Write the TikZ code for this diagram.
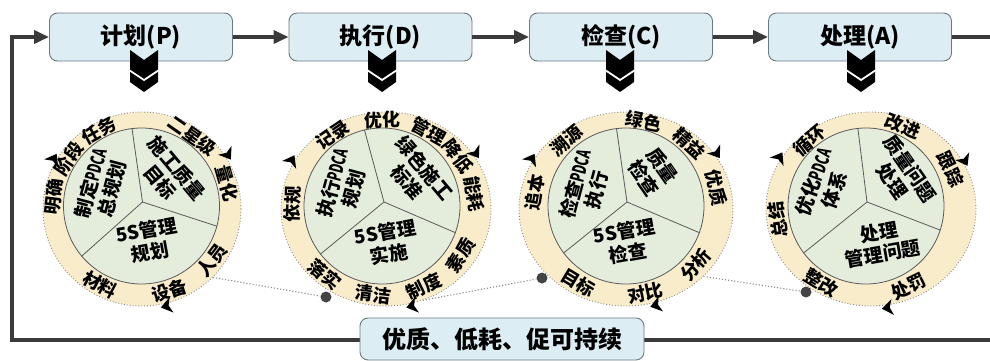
\documentclass[tikz,border=0pt]{standalone}
\usepackage{fontspec}
\setmainfont{Noto Sans CJK SC}
\usetikzlibrary{calc,arrows.meta,shapes.geometric}
\definecolor{boxfill}{HTML}{DCEEF4}
\definecolor{boxdraw}{HTML}{6A7A80}
\definecolor{flowc}{HTML}{3A3A3A}
\definecolor{ringfill}{HTML}{F8ECCA}
\definecolor{innerfill}{HTML}{E4EDDC}
\definecolor{divc}{HTML}{5A5A5A}
\definecolor{dotc}{HTML}{8A8A8A}
\definecolor{dotfill}{HTML}{444444}
\newcommand\pdca{\scalebox{0.62}[1]{PDCA}}
\newcommand\ringword[5]{%
  \pgfmathsetmacro\rwrot{sin(#3)>-0.25 ? #3-90 : #3+90}%
  \node[ringtxt,rotate=\rwrot] (#1) at ($(#2)+(#3:#4)$) {#5};}
\newcommand\rimarrow[3]{%
  \begin{scope}[shift={($(#1)+(#2:#3)$)},rotate=#2-90]
    \fill[black] (6,0) -- (-5,8) -- (-2,0) -- (-5,-8) -- cycle;
  \end{scope}}
\newcommand\chev[2]{%
  \fill[black] (#1-14,#2) -- (#1,#2-10) -- (#1+14,#2) -- (#1+14,#2-32) -- (#1,#2-42) -- (#1-14,#2-32) -- cycle;
  \draw[white,line width=1.8pt] (#1-15,#2-20) -- (#1,#2-30) -- (#1+15,#2-20);}
\begin{document}
\begin{tikzpicture}[x=1pt,y=1pt,
  titlebox/.style={draw=boxdraw, fill=boxfill, rounded corners=8pt, line width=0.9pt, minimum width=183pt, minimum height=48pt, inner sep=0pt, font=\bfseries\fontsize{23}{26}\selectfont},
  flowarrow/.style={draw=flowc, line width=3.5pt, -{Triangle[length=15pt,width=13pt]}},
  flowline/.style={draw=flowc, line width=3.5pt},
  ringdisc/.style={ellipse, draw=dotc, dotted, line width=0.9pt, fill=ringfill, inner sep=0pt, minimum height=194pt},
  coredisc/.style={circle, draw=divc, line width=0.8pt, fill=innerfill, minimum size=156pt, inner sep=0pt},
  divline/.style={draw=divc, line width=0.8pt},
  innertxt/.style={align=center, font=\bfseries\fontsize{19}{22}\selectfont, inner sep=0pt},
  ringtxt/.style={font=\bfseries\fontsize{18}{19}\selectfont, inner sep=0pt},
  dotlink/.style={draw=dotc, dotted, line width=1.1pt},
  dotmark/.style={circle, fill=dotfill, minimum size=11pt, inner sep=0pt},
]
\useasboundingbox (0,0) rectangle (990,360);

% ---------- circle 1 ----------
\node[ringdisc, minimum width=198pt] (o1) at (142,151) {};
\node[coredisc] (i1) at (141.5,154) {};
\coordinate (m1) at ($(o1.center)!0.5!(i1.center)$);
\coordinate (y1) at ($(i1.center)+(1,4)$);
\draw[divline] (y1) -- (i1.97) (y1) -- (i1.-15) (y1) -- (i1.220);
\node[innertxt, rotate=75] (t1a) at ($(i1.center)+(-40,20)$) {制定\pdca\\总规划};
\node[innertxt, rotate=-50] (t1b) at ($(i1.center)+(27,31)$) {施工质量\\目标};
\node[innertxt, rotate=10] (t1c) at ($(i1.center)+(7,-35)$) {5S管理\\规划};
\ringword{r1a}{m1}{173}{88.5 and 87.5}{明确}
\ringword{r1b}{m1}{146}{88.5 and 87.5}{阶段}
\ringword{r1c}{m1}{119}{88.5 and 87.5}{任务}
\ringword{r1d}{m1}{55}{88.5 and 87.5}{二星级}
\ringword{r1e}{m1}{16}{88.5 and 87.5}{量化}
\ringword{r1f}{m1}{-37}{88.5 and 87.5}{人员}
\ringword{r1g}{m1}{-72}{88.5 and 87.5}{设备}
\ringword{r1h}{m1}{-118}{88.5 and 87.5}{材料}
\rimarrow{o1.center}{150}{102 and 100}
\rimarrow{o1.center}{33}{102 and 100}
\rimarrow{o1.center}{-76}{102 and 100}

% ---------- circle 2 ----------
\node[ringdisc, minimum width=210pt] (o2) at (386,151) {};
\node[coredisc] (i2) at (382,154) {};
\coordinate (m2) at ($(o2.center)!0.5!(i2.center)$);
\coordinate (y2) at ($(i2.center)+(2,4)$);
\draw[divline] (y2) -- (i2.103) (y2) -- (i2.-20) (y2) -- (i2.218);
\node[innertxt, rotate=75] (t2a) at ($(i2.center)+(-39,20)$) {执行\pdca\\规划};
\node[innertxt, rotate=-50] (t2b) at ($(i2.center)+(34,31)$) {绿色施工\\标准};
\node[innertxt, rotate=10] (t2c) at ($(i2.center)+(5,-37)$) {5S管理\\实施};
\ringword{r2a}{m2}{178}{91.5 and 87.5}{依规}
\ringword{r2b}{m2}{124}{91.5 and 87.5}{记录}
\ringword{r2c}{m2}{91}{91.5 and 87.5}{优化}
\ringword{r2d}{m2}{61}{91.5 and 87.5}{管理}
\ringword{r2e}{m2}{36}{91.5 and 87.5}{降低}
\ringword{r2f}{m2}{9}{91.5 and 87.5}{能耗}
\ringword{r2g}{m2}{-33}{91.5 and 87.5}{素质}
\ringword{r2h}{m2}{-64}{91.5 and 87.5}{制度}
\ringword{r2i}{m2}{-97}{91.5 and 87.5}{清洁}
\ringword{r2j}{m2}{-130}{91.5 and 87.5}{落实}
\rimarrow{o2.center}{151}{108 and 100}
\rimarrow{o2.center}{34}{108 and 100}
\rimarrow{o2.center}{-76}{108 and 100}

% ---------- circle 3 ----------
\node[ringdisc, minimum width=214pt] (o3) at (626,151) {};
\node[coredisc] (i3) at (626,154) {};
\coordinate (m3) at ($(o3.center)!0.5!(i3.center)$);
\coordinate (y3) at ($(i3.center)+(1,4)$);
\draw[divline] (y3) -- (i3.97) (y3) -- (i3.-20) (y3) -- (i3.217);
\node[innertxt, rotate=75] (t3a) at ($(i3.center)+(-40,19)$) {检查\pdca\\执行};
\node[innertxt, rotate=-55] (t3b) at ($(i3.center)+(27,34)$) {质量\\检查};
\node[innertxt, rotate=10] (t3c) at ($(i3.center)+(0,-36)$) {5S管理\\检查};
\ringword{r3a}{m3}{170}{92.5 and 87.5}{追本}
\ringword{r3b}{m3}{130}{92.5 and 87.5}{溯源}
\ringword{r3c}{m3}{79}{92.5 and 87.5}{绿色}
\ringword{r3d}{m3}{47}{92.5 and 87.5}{精益}
\ringword{r3e}{m3}{13}{92.5 and 87.5}{优质}
\ringword{r3f}{m3}{-41}{92.5 and 87.5}{分析}
\ringword{r3g}{m3}{-78}{92.5 and 87.5}{对比}
\ringword{r3h}{m3}{-121}{92.5 and 87.5}{目标}
\rimarrow{o3.center}{150}{109 and 100}
\rimarrow{o3.center}{34}{109 and 100}
\rimarrow{o3.center}{-74}{109 and 100}

% ---------- circle 4 ----------
\node[ringdisc, minimum width=210pt] (o4) at (871,151) {};
\node[coredisc] (i4) at (866,154) {};
\coordinate (m4) at ($(o4.center)!0.5!(i4.center)$);
\coordinate (y4) at ($(i4.center)+(1,4)$);
\draw[divline] (y4) -- (i4.96) (y4) -- (i4.-18) (y4) -- (i4.217);
\node[innertxt, rotate=70] (t4a) at ($(i4.center)+(-42,20)$) {优化\pdca\\体系};
\node[innertxt, rotate=-55] (t4b) at ($(i4.center)+(35,31)$) {质量问题\\处理};
\node[innertxt, rotate=10] (t4c) at ($(i4.center)+(15,-37)$) {处理\\管理问题};
\ringword{r4a}{m4}{188}{91.5 and 87.5}{总结}
\ringword{r4b}{m4}{130}{91.5 and 87.5}{循环}
\ringword{r4c}{m4}{68}{91.5 and 87.5}{改进}
\ringword{r4d}{m4}{26}{91.5 and 87.5}{跟踪}
\ringword{r4e}{m4}{-64}{91.5 and 87.5}{处罚}
\ringword{r4f}{m4}{-121}{91.5 and 87.5}{整改}
\rimarrow{o4.center}{149}{107 and 100}
\rimarrow{o4.center}{29}{107 and 100}
\rimarrow{o4.center}{-81}{107 and 100}

% ---------- dotted links ----------
\node[dotmark] (k1) at (326,63) {};
\node[dotmark] (k2) at (542,82) {};
\node[dotmark] (k3) at (806,68) {};
\draw[dotlink] (o1.-44) -- (k1);
\draw[dotlink] (o2.-68) -- (k2);
\draw[dotlink] (o3.-41) -- (k3);

% ---------- top flow ----------
\node[titlebox] (b1) at (141,323) {计划(P)};
\node[titlebox] (b2) at (380.5,323) {执行(D)};
\node[titlebox] (b3) at (621,323) {检查(C)};
\node[titlebox] (b4) at (860,323) {处理(A)};
\chev{144}{310}
\chev{382}{310}
\chev{620}{310}
\chev{861}{310}
\draw[flowarrow] (b1.east) -- (b2.west);
\draw[flowarrow] (b2.east) -- (b3.west);
\draw[flowarrow] (b3.east) -- (b4.west);
\coordinate (re) at (990,323);
\coordinate (rb) at (990,20);
\coordinate (lb) at (12,20);
\draw[flowline] (b4.east) -- (re);
\draw[flowarrow] (rb) -- (lb) |- (b1.west);
\node[titlebox, minimum width=284pt, minimum height=42pt, font=\bfseries\fontsize{24}{26}\selectfont] (bb) at (502,21) {优质、低耗、促可持续};
\end{tikzpicture}
\end{document}
